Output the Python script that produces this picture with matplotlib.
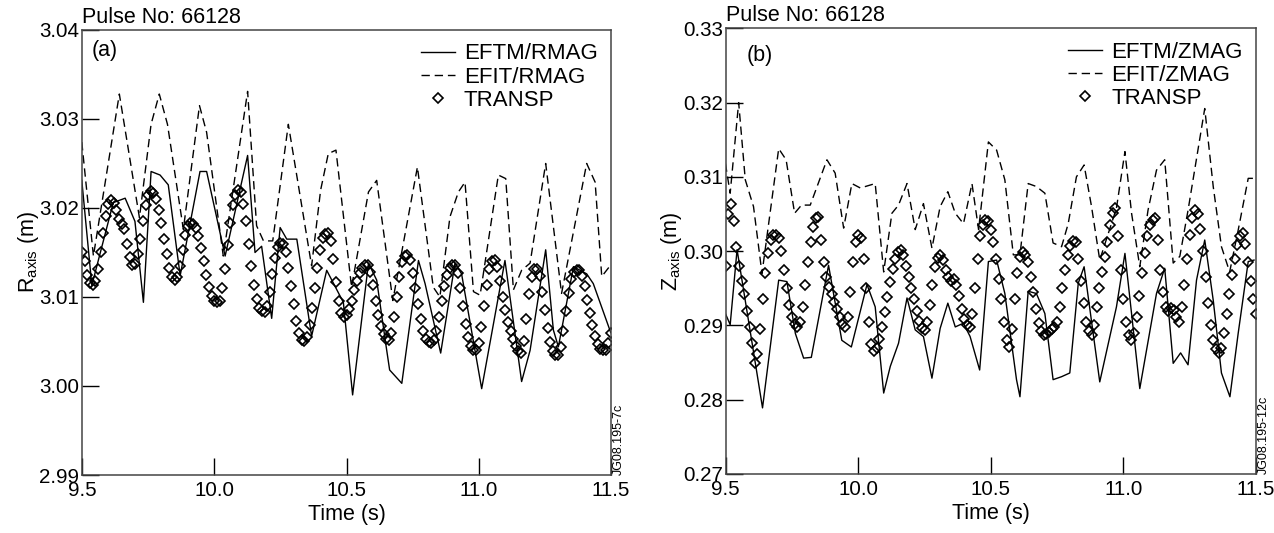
# Pulse 66128: magnetic axis position, EFTM vs EFIT vs TRANSP
import numpy as np
import matplotlib
matplotlib.use('Agg')
import matplotlib.pyplot as plt

plt.rcParams['font.family'] = ['Liberation Sans', 'DejaVu Sans']
plt.rcParams['mathtext.fontset'] = 'custom'
plt.rcParams['mathtext.rm'] = 'Liberation Sans'
plt.rcParams['mathtext.it'] = 'Liberation Sans:italic'

# ---- panel (a): R axis ----
t_eftm_a = [9.499, 9.537, 9.618, 9.663, 9.700, 9.732, 9.761, 9.795, 9.826, 9.871,
            9.946, 9.971, 10.041, 10.126, 10.154, 10.179, 10.217, 10.249, 10.274, 10.312,
            10.368, 10.425, 10.488, 10.523, 10.583, 10.614, 10.650, 10.663, 10.709, 10.772,
            10.797, 10.856, 10.910, 10.935, 11.011, 11.099, 11.162, 11.194, 11.253, 11.282,
            11.301, 11.358, 11.408, 11.433, 11.499]
r_eftm = [3.0231, 3.0113, 3.0206, 3.0211, 3.0185, 3.0094, 3.0241, 3.0237, 3.0226, 3.0124,
          3.0241, 3.0241, 3.0146, 3.0259, 3.0150, 3.0157, 3.0076, 3.0178, 3.0165, 3.0165,
          3.0056, 3.0130, 3.0094, 2.9990, 3.0138, 3.0119, 3.0044, 3.0018, 3.0003, 3.0141,
          3.0115, 3.0037, 3.0138, 3.0126, 2.9997, 3.0141, 3.0005, 3.0040, 3.0153, 3.0063,
          3.0044, 3.0134, 3.0126, 3.0115, 3.0060]

t_efit_a = [9.499, 9.543, 9.641, 9.717, 9.761, 9.792, 9.823, 9.883, 9.944, 9.971,
            10.034, 10.126, 10.160, 10.186, 10.221, 10.280, 10.368, 10.402, 10.431, 10.460,
            10.519, 10.583, 10.614, 10.675, 10.768, 10.828, 10.853, 10.891, 10.923, 10.948,
            10.980, 11.005, 11.074, 11.102, 11.131, 11.162, 11.194, 11.253, 11.313, 11.408,
            11.440, 11.465, 11.499]
r_efit = [3.0274, 3.0146, 3.0328, 3.0189, 3.0294, 3.0328, 3.0294, 3.0176, 3.0315, 3.0285,
          3.0146, 3.0331, 3.0180, 3.0163, 3.0163, 3.0294, 3.0135, 3.0220, 3.0261, 3.0265,
          3.0111, 3.0218, 3.0231, 3.0096, 3.0246, 3.0111, 3.0100, 3.0190, 3.0218, 3.0229,
          3.0106, 3.0102, 3.0237, 3.0233, 3.0108, 3.0130, 3.0138, 3.0250, 3.0104, 3.0250,
          3.0229, 3.0123, 3.0136]

# TRANSP, one value every 10 ms from 9.50 s to 11.50 s
r_transp = [
    3.0150, 3.0140, 3.0125, 3.0116, 3.0113, 3.0118, 3.0131, 3.0150, 3.0172, 3.0191,
    3.0204, 3.0209, 3.0206, 3.0198, 3.0188, 3.0182, 3.0176, 3.0160, 3.0145, 3.0136,
    3.0137, 3.0148, 3.0165, 3.0185, 3.0203, 3.0215, 3.0219, 3.0217, 3.0210, 3.0198,
    3.0183, 3.0165, 3.0148, 3.0133, 3.0123, 3.0119, 3.0123, 3.0135, 3.0153, 3.0170,
    3.0180, 3.0183, 3.0182, 3.0177, 3.0168, 3.0155, 3.0140, 3.0125, 3.0111, 3.0101,
    3.0096, 3.0094, 3.0096, 3.0110, 3.0132, 3.0158, 3.0183, 3.0203, 3.0215, 3.0220,
    3.0218, 3.0205, 3.0185, 3.0160, 3.0135, 3.0113, 3.0098, 3.0088, 3.0084, 3.0083,
    3.0090, 3.0106, 3.0126, 3.0144, 3.0156, 3.0161, 3.0160, 3.0150, 3.0133, 3.0112,
    3.0092, 3.0073, 3.0060, 3.0052, 3.0050, 3.0055, 3.0068, 3.0088, 3.0110, 3.0133,
    3.0153, 3.0166, 3.0171, 3.0172, 3.0163, 3.0143, 3.0117, 3.0095, 3.0082, 3.0078,
    3.0080, 3.0086, 3.0096, 3.0108, 3.0118, 3.0127, 3.0133, 3.0136, 3.0136, 3.0128,
    3.0113, 3.0096, 3.0080, 3.0067, 3.0058, 3.0053, 3.0052, 3.0060, 3.0078, 3.0100,
    3.0122, 3.0139, 3.0146, 3.0147, 3.0141, 3.0127, 3.0110, 3.0092, 3.0075, 3.0062,
    3.0053, 3.0049, 3.0048, 3.0052, 3.0062, 3.0077, 3.0095, 3.0112, 3.0125, 3.0133,
    3.0136, 3.0136, 3.0127, 3.0110, 3.0090, 3.0070, 3.0055, 3.0045, 3.0041, 3.0040,
    3.0048, 3.0066, 3.0090, 3.0113, 3.0131, 3.0140, 3.0141, 3.0134, 3.0118, 3.0100,
    3.0085, 3.0072, 3.0062, 3.0053, 3.0045, 3.0039, 3.0037, 3.0050, 3.0075, 3.0103,
    3.0123, 3.0131, 3.0132, 3.0124, 3.0106, 3.0085, 3.0065, 3.0049, 3.0039, 3.0035,
    3.0035, 3.0044, 3.0062, 3.0084, 3.0105, 3.0120, 3.0128, 3.0130, 3.0130, 3.0124,
    3.0112, 3.0097, 3.0082, 3.0068, 3.0056, 3.0047, 3.0042, 3.0040, 3.0040, 3.0048,
    3.0060]

# ---- panel (b): Z axis ----
t_eftm_b = [9.499, 9.517, 9.543, 9.639, 9.700, 9.731, 9.763, 9.794, 9.823, 9.888,
            9.938, 9.974, 10.033, 10.064, 10.096, 10.121, 10.152, 10.184, 10.215, 10.246,
            10.278, 10.309, 10.338, 10.366, 10.397, 10.422, 10.458, 10.491, 10.522, 10.553,
            10.597, 10.610, 10.641, 10.672, 10.704, 10.735, 10.767, 10.798, 10.830, 10.852,
            10.911, 10.974, 11.006, 11.062, 11.125, 11.156, 11.188, 11.216, 11.244, 11.276,
            11.307, 11.339, 11.370, 11.402, 11.433, 11.471, 11.493]
z_eftm = [0.2916, 0.2901, 0.3002, 0.2789, 0.2961, 0.2959, 0.2889, 0.2856, 0.2857, 0.2981,
          0.2880, 0.2871, 0.2955, 0.2925, 0.2809, 0.2845, 0.2876, 0.2937, 0.2894, 0.2885,
          0.2829, 0.2896, 0.2930, 0.2898, 0.2903, 0.2885, 0.2840, 0.2986, 0.2988, 0.2943,
          0.2827, 0.2804, 0.2946, 0.2943, 0.2916, 0.2827, 0.2831, 0.2836, 0.2957, 0.2979,
          0.2824, 0.2925, 0.2997, 0.2815, 0.2943, 0.2977, 0.2849, 0.2863, 0.2847, 0.2961,
          0.3015, 0.2934, 0.2836, 0.2804, 0.2889, 0.2986, 0.2988]

t_efit_b = [9.499, 9.517, 9.549, 9.574, 9.605, 9.637, 9.700, 9.728, 9.760, 9.786,
            9.819, 9.882, 9.913, 9.945, 9.976, 10.008, 10.064, 10.096, 10.127, 10.152,
            10.184, 10.215, 10.246, 10.278, 10.309, 10.338, 10.366, 10.397, 10.429, 10.454,
            10.491, 10.522, 10.553, 10.585, 10.610, 10.641, 10.672, 10.704, 10.735, 10.767,
            10.792, 10.823, 10.852, 10.880, 10.911, 10.974, 11.006, 11.031, 11.062, 11.093,
            11.125, 11.156, 11.188, 11.213, 11.244, 11.307, 11.339, 11.370, 11.401, 11.433,
            11.471, 11.493]
z_efit = [0.3118, 0.3078, 0.3200, 0.3096, 0.3060, 0.2970, 0.3138, 0.3123, 0.3051, 0.3062,
          0.3062, 0.3123, 0.3105, 0.3031, 0.3091, 0.3085, 0.3091, 0.2972, 0.3051, 0.3062,
          0.3091, 0.3029, 0.3064, 0.3004, 0.3060, 0.3080, 0.3051, 0.3037, 0.3091, 0.3029,
          0.3147, 0.3136, 0.3096, 0.2995, 0.2995, 0.3091, 0.3087, 0.3078, 0.3011, 0.3006,
          0.3037, 0.3100, 0.3116, 0.3060, 0.2988, 0.3058, 0.3134, 0.3051, 0.2979, 0.3055,
          0.3109, 0.3123, 0.2984, 0.2993, 0.3055, 0.3192, 0.3087, 0.3006, 0.2972, 0.3028,
          0.3098, 0.3098]

z_transp = [
    0.2980, 0.3050, 0.3064, 0.3040, 0.3005, 0.2980, 0.2960, 0.2942, 0.2920, 0.2898,
    0.2876, 0.2850, 0.2862, 0.2895, 0.2935, 0.2970, 0.2998, 0.3015, 0.3022, 0.3022,
    0.3018, 0.3000, 0.2975, 0.2950, 0.2928, 0.2912, 0.2902, 0.2898, 0.2905, 0.2925,
    0.2955, 0.2985, 0.3012, 0.3033, 0.3044, 0.3046, 0.3015, 0.2985, 0.2965, 0.2952,
    0.2942, 0.2932, 0.2922, 0.2912, 0.2902, 0.2898, 0.2912, 0.2945, 0.2985, 0.3012,
    0.3022, 0.3018, 0.2990, 0.2950, 0.2905, 0.2875, 0.2865, 0.2870, 0.2882, 0.2898,
    0.2918, 0.2938, 0.2958, 0.2976, 0.2990, 0.2999, 0.3002, 0.2995, 0.2980, 0.2965,
    0.2950, 0.2935, 0.2920, 0.2906, 0.2897, 0.2894, 0.2905, 0.2928, 0.2955, 0.2978,
    0.2991, 0.2995, 0.2988, 0.2975, 0.2965, 0.2960, 0.2962, 0.2955, 0.2940, 0.2922,
    0.2908, 0.2900, 0.2898, 0.2915, 0.2950, 0.2990, 0.3020, 0.3035, 0.3042, 0.3040,
    0.3028, 0.3012, 0.2990, 0.2962, 0.2935, 0.2905, 0.2880, 0.2871, 0.2895, 0.2935,
    0.2970, 0.2992, 0.2999, 0.2995, 0.2985, 0.2965, 0.2945, 0.2922, 0.2903, 0.2892,
    0.2887, 0.2888, 0.2891, 0.2895, 0.2898, 0.2905, 0.2925, 0.2950, 0.2975, 0.2995,
    0.3007, 0.3013, 0.3012, 0.2990, 0.2960, 0.2930, 0.2905, 0.2892, 0.2887, 0.2900,
    0.2925, 0.2950, 0.2972, 0.2992, 0.3012, 0.3035, 0.3052, 0.3058, 0.3020, 0.2975,
    0.2935, 0.2905, 0.2887, 0.2880, 0.2890, 0.2912, 0.2940, 0.2970, 0.2997, 0.3020,
    0.3035, 0.3042, 0.3044, 0.3015, 0.2975, 0.2945, 0.2925, 0.2920, 0.2923, 0.2921,
    0.2912, 0.2905, 0.2925, 0.2955, 0.2990, 0.3022, 0.3045, 0.3055, 0.3050, 0.3030,
    0.3000, 0.2965, 0.2930, 0.2900, 0.2880, 0.2868, 0.2863, 0.2870, 0.2890, 0.2915,
    0.2942, 0.2968, 0.2990, 0.3008, 0.3020, 0.3024, 0.3010, 0.2985, 0.2960, 0.2935,
    0.2915]

t_ticks = [9.5, 10.0, 10.5, 11.0, 11.5]

# Plot
fig = plt.figure(figsize=(12.74, 5.33), dpi=100)
ax_a = fig.add_axes([0.0644, 0.1088, 0.4152, 0.835])
ax_b = fig.add_axes([0.5696, 0.1107, 0.4162, 0.8362])

panels = [
    (ax_a, t_eftm_a, r_eftm, t_efit_a, r_efit, r_transp, 'RMAG', r'R$_{\rm axis}$ (m)',
     (2.99, 3.04), '(a)', (0.019, 0.978), 'JG08.195-7c'),
    (ax_b, t_eftm_b, z_eftm, t_efit_b, z_efit, z_transp, 'ZMAG', r'Z$_{\rm axis}$ (m)',
     (0.27, 0.33), '(b)', (0.040, 0.962), 'JG08.195-12c'),
]

for ax, t1, v1, t2, v2, vtr, name, ylab, ylim, tag, tagpos, code in panels:
    t_tr = np.linspace(9.5, 11.5, len(vtr))
    ax.plot(t1, v1, color='black', lw=1.0, label='EFTM/' + name)
    ax.plot(t2, v2, color='black', lw=1.0, dashes=(6, 3.5), label='EFIT/' + name)
    ax.plot(t_tr, vtr, ls='none', marker='D', ms=5.2, mfc='none', mec='black',
            mew=1.2, label='TRANSP')
    ax.set_xlim(9.5, 11.5)
    ax.set_ylim(*ylim)
    ax.set_xticks(t_ticks)
    ax.set_xticklabels(['%.1f' % t for t in t_ticks])
    ax.set_yticks(np.arange(ylim[0], ylim[1] + 0.001, 0.01))
    ax.yaxis.set_major_formatter(plt.FormatStrFormatter('%.2f'))
    ax.tick_params(direction='in', length=12, width=1, labelsize=14.8, pad=4)
    ax.tick_params(axis='y', pad=2)
    for s in ax.spines.values():
        s.set_color('#444444')
        s.set_linewidth(1.1)
    ax.set_xlabel('Time (s)', fontsize=15.5, labelpad=3)
    ax.set_ylabel(ylab, fontsize=15.5, labelpad=-1)
    ax.text(0.0, 1.005, 'Pulse No: 66128', transform=ax.transAxes, fontsize=15.5,
            ha='left', va='bottom')
    ax.text(tagpos[0], tagpos[1], tag, transform=ax.transAxes, fontsize=15.5,
            ha='left', va='top')
    ax.text(1.004, 0.0, code, transform=ax.transAxes, fontsize=9, rotation=90,
            ha='left', va='bottom')
    ax.legend(loc='upper right', frameon=False, fontsize=16, handlelength=1.55,
              handletextpad=0.4, labelspacing=0.1, borderaxespad=0.2,
              bbox_to_anchor=(1.0, 1.0))

fig.savefig('out.png', dpi=100)
